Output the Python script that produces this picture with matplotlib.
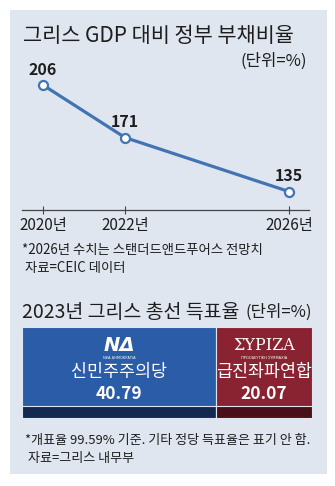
import matplotlib
matplotlib.use("Agg")
import matplotlib.pyplot as plt
from matplotlib.patches import Rectangle

plt.rcParams['font.family'] = ['Noto Sans CJK KR', 'DejaVu Sans']

# data
years = [2020, 2022, 2026]
year_labels = ["2020년", "2022년", "2026년"]
debt_ratio = [206, 171, 135]

parties = ["신민주주의당", "급진좌파연합"]
party_logo = ["ΝΔ", "ΣΥΡΙΖΑ"]
party_sub = ["ΝΕΑ ΔΗΜΟΚΡΑΤΙΑ", "ΠΡΟΟΔΕΥΤΙΚΗ ΣΥΜΜΑΧΙΑ"]
vote_share = [40.79, 20.07]
party_colors = ["#2b5ca8", "#8a2331"]
party_dark = ["#14294f", "#4a1018"]

W, H = 335, 486
BG = "#dfe6ef"
TXT = "#1e1e1e"
LINE = "#4274b4"


def fx(px):
    return px / W


def fy(py):
    return 1 - py / H


fig = plt.figure(figsize=(W / 100, H / 100), dpi=100)
fig.patch.set_facecolor("white")
fig.patches.append(Rectangle((fx(10), fy(474)), fx(317), 464 / H,
                             transform=fig.transFigure, facecolor=BG,
                             edgecolor="none", zorder=-5))

# titles
fig.text(fx(23), fy(36), "그리스 GDP 대비 정부 부채비율", fontsize=15,
         weight="medium", color=TXT, va="center", ha="left")
fig.text(fx(307), fy(61), "(단위=%)", fontsize=12, color=TXT,
         va="center", ha="right", weight="light")

# line chart
ax = fig.add_axes([fx(22), fy(210), 287 / W, 150 / H])
ax.set_facecolor("none")
ax.plot(years, debt_ratio, color=LINE, lw=2.3, marker="o", ms=6.5,
        mfc="white", mec=LINE, mew=1.6, zorder=3)
for x, v in zip(years, debt_ratio):
    ax.text(x, v + 5, str(v), ha="center", va="bottom", fontsize=11.5,
            weight="bold", color=TXT)
ax.set_xlim(2020 - 21 / 41, 2026 + 20 / 41)
ax.set_ylim(122.7, 222.7)
for s in ["top", "left", "right"]:
    ax.spines[s].set_visible(False)
ax.spines["bottom"].set_color("#444444")
ax.spines["bottom"].set_linewidth(0.9)
ax.set_yticks([])
ax.set_xticks(years)
ax.set_xticklabels(year_labels, fontsize=11, color=TXT)
ax.tick_params(axis="x", direction="inout", length=6, width=0.8,
               color="#444444", pad=2)

fig.text(fx(22), fy(250), "*2026년 수치는 스탠더드앤드푸어스 전망치",
         fontsize=9.6, color=TXT, va="center", ha="left")
fig.text(fx(25), fy(268), "자료=CEIC 데이터", fontsize=9.6, color=TXT,
         va="center", ha="left")

# vote share bar
fig.text(fx(22), fy(312), "2023년 그리스 총선 득표율", fontsize=14,
         weight="medium", color=TXT, va="center", ha="left")
fig.text(fx(312), fy(312), "(단위=%)", fontsize=12, color=TXT,
         va="center", ha="right", weight="light")

bx = fig.add_axes([fx(22), fy(418), 290 / W, 91 / H])
bx.set_axis_off()
total = sum(vote_share)
left = 0
for i, v in enumerate(vote_share):
    bx.barh(0.5, v, left=left, height=1, color=party_colors[i],
            edgecolor=BG, linewidth=0.8)
    bx.barh(0.065, v, left=left, height=0.13, color=party_dark[i],
            edgecolor=BG, linewidth=0.8)
    c = left + v / 2
    if i == 0:
        bx.text(c, 0.8, party_logo[i], ha="center", va="center",
                fontsize=14, weight="bold", style="italic", color="white",
                family="DejaVu Sans")
    else:
        bx.text(c, 0.8, party_logo[i], ha="center", va="center",
                fontsize=11.5, color="white", family="DejaVu Serif")
    bx.text(c, 0.66, party_sub[i], ha="center", va="center",
            fontsize=2.6, color="white", family="DejaVu Sans")
    bx.text(c, 0.5, parties[i], ha="center", va="center", fontsize=12.5,
            color="white")
    bx.text(c, 0.26, f"{v:.2f}", ha="center", va="center", fontsize=12.5,
            weight="bold", color="white")
    left += v
bx.set_xlim(0, total)
bx.set_ylim(0, 1)

fig.text(fx(25), fy(440), "*개표율 99.59% 기준. 기타 정당 득표율은 표기 안 함.",
         fontsize=9.4, color=TXT, va="center", ha="left")
fig.text(fx(28), fy(458), "자료=그리스 내무부", fontsize=9.4, color=TXT,
         va="center", ha="left")

fig.savefig("out.png", dpi=100, facecolor="white")
